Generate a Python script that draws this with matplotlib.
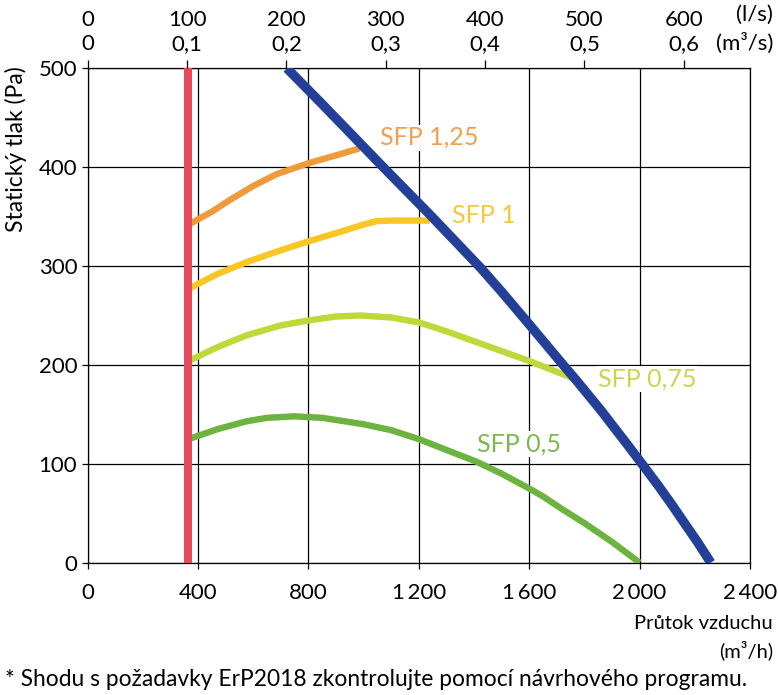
import matplotlib
matplotlib.use("Agg")
import matplotlib.pyplot as plt

plt.rcParams['font.family'] = ['Lato', 'DejaVu Sans']

# pracovni krivka ventilatoru (m3/h, Pa)
fan_flow = [722, 842, 960, 1071, 1240, 1421, 1500, 1600, 1723, 1772, 1860, 1954, 2011, 2070, 2116, 2160, 2207, 2258]
fan_pres = [500, 466, 432, 400, 352, 299, 274, 241, 200, 184, 154, 120, 99, 77, 59, 41, 22, 0]

# krivky SFP
sfp125_flow = [366, 450, 516, 600, 685, 800, 900, 985]
sfp125_pres = [342, 355, 367, 381, 393, 404, 412, 419]

sfp1_flow = [366, 470, 576, 700, 800, 920, 1000, 1047, 1100, 1240]
sfp1_pres = [277, 292, 304, 316, 325, 335, 342, 345.5, 346, 346]

sfp075_flow = [366, 470, 576, 700, 800, 900, 990, 1100, 1200, 1300, 1420, 1600, 1700, 1775]
sfp075_pres = [204, 218, 230, 240, 245, 249, 250, 248, 243, 234, 222, 204, 193, 185]

sfp05_flow = [366, 470, 576, 650, 750, 850, 1000, 1100, 1200, 1300, 1410, 1500, 1600, 1650, 1720, 1800, 1900, 2000]
sfp05_pres = [125, 135, 143, 146.5, 148, 146.5, 140, 134, 125, 114, 102, 90, 75, 67, 54, 40, 21, 0]

min_flow = 365

x_ticks = [0, 400, 800, 1200, 1600, 2000, 2400]
x_labels = ["0", "400", "800", "1\u2009200", "1\u2009600", "2\u2009000", "2\u2009400"]
y_ticks = [0, 100, 200, 300, 400, 500]
top_ls = [0, 100, 200, 300, 400, 500, 600]
top_m3s = ["0", "0,1", "0,2", "0,3", "0,4", "0,5", "0,6"]

labels = ["SFP 1,25", "SFP 1", "SFP 0,75", "SFP 0,5"]
label_pos = [(1060, 430), (1319, 351), (1850, 186), (1410, 120)]

c_fan = '#233f98'
c_min = '#e6485c'
colors = ['#ef9a3b', '#f9c623', '#bfd83a', '#6cb33f']
label_colors = ['#f0a04e', '#f7c73a', '#c2d94e', '#79b84f']

fig = plt.figure(figsize=(7.78, 6.95), dpi=100)
ax = fig.add_axes([0.1127, 0.1904, 0.8513, 0.7113])

ax.set_xlim(0, 2400)
ax.set_ylim(0, 500)
ax.set_xticks(x_ticks)
ax.set_xticklabels(x_labels)
ax.set_yticks(y_ticks)
ax.grid(True, color='black', lw=0.9)
ax.set_axisbelow(True)
for s in ax.spines.values():
    s.set_linewidth(0.9)
ax.tick_params(axis='x', direction='out', length=4.5, width=0.9, pad=10, labelsize=16)
ax.tick_params(axis='y', direction='out', length=4.5, width=0.9, pad=3, labelsize=16)

curves = [(sfp125_flow, sfp125_pres), (sfp1_flow, sfp1_pres),
          (sfp075_flow, sfp075_pres), (sfp05_flow, sfp05_pres)]
for (fx, fy), c in zip(curves, colors):
    ax.plot(fx, fy, color=c, lw=4.6, solid_capstyle='butt', solid_joinstyle='round', zorder=4)

ax.plot(fan_flow, fan_pres, color=c_fan, lw=6.8, solid_capstyle='butt', solid_joinstyle='round', zorder=5)
ax.axvline(min_flow, color=c_min, lw=5.8, solid_capstyle='butt', zorder=6)

for txt, (px, py), c in zip(labels, label_pos, label_colors):
    ax.text(px, py, txt, color=c, fontsize=18, ha='left', va='center', zorder=3,
            bbox=dict(facecolor='white', edgecolor='none', pad=1))

# horni osa l/s a m3/s
ax2 = ax.twiny()
ax2.set_xlim(0, 2400)
ax2.set_xticks([v * 3.6 for v in top_ls])
ax2.set_xticklabels([f"{a}\n{b}" for a, b in zip(top_ls, top_m3s)])
ax2.tick_params(axis='x', direction='out', length=6, width=0.9, pad=4, labelsize=16)
for lbl in ax2.get_xticklabels():
    lbl.set_linespacing(1.25)
for s in ax2.spines.values():
    s.set_visible(False)

fig.text(0.9936, 1 - 15 / 695, "(l/s)", fontsize=16, ha='right', va='center')
fig.text(0.9936, 1 - 43 / 695, "(m³/s)", fontsize=16, ha='right', va='center')

fig.text(0.0206, 0.905, "Statický tlak (Pa)", fontsize=16.5, rotation=90, ha='center', va='top')
fig.text(0.9936, 1 - 629 / 695, "Průtok vzduchu", fontsize=14.5, ha='right', va='baseline')
fig.text(0.9936, 1 - 657 / 695, "(m³/h)", fontsize=14.5, ha='right', va='baseline')
fig.text(0.006, 1 - 686 / 695, "* Shodu s požadavky ErP2018 zkontrolujte pomocí návrhového programu.",
         fontsize=16.4, ha='left', va='baseline')

fig.savefig("out.png", dpi=100)
